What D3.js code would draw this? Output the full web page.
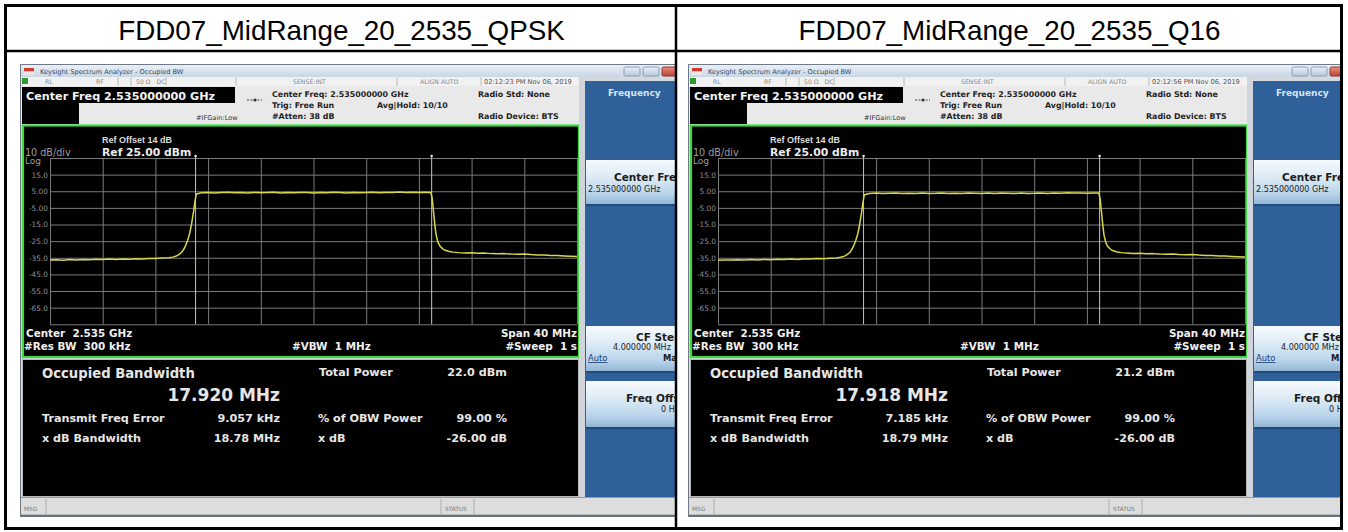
<!DOCTYPE html>
<html><head><meta charset="utf-8">
<script src="https://cdn.jsdelivr.net/npm/d3@7"></script>
<style>body{margin:0;background:#fff}svg{display:block}text{white-space:pre}</style>
</head><body>
<svg id="c" width="1348" height="532"></svg>
<script>
// ---------- data ----------
const titles = ["FDD07_MidRange_20_2535_QPSK", "FDD07_MidRange_20_2535_Q16"];
const timestamps = ["02:12:23 PM Nov 06, 2019", "02:12:56 PM Nov 06, 2019"];
const obwMHz = [17.920, 17.918];
const obwText = ["17.920 MHz", "17.918 MHz"];
const totalPower = ["22.0 dBm", "21.2 dBm"];
const freqErrorKHz = [9.057, 7.185];
const freqErrorText = ["9.057 kHz", "7.185 kHz"];
const xdbBandwidth = ["18.78 MHz", "18.79 MHz"];
const obwPowerPct = ["99.00 %", "99.00 %"];
const xdBValue = ["-26.00 dB", "-26.00 dB"];
const yTickValues = [15, 5, -5, -15, -25, -35, -45, -55, -65];
const yTickLabels = ["15.0", "5.00", "-5.00", "-15.0", "-25.0", "-35.0", "-45.0", "-55.0", "-65.0"];
const xDivs = [-20, -16, -12, -8, -4, 0, 4, 8, 12, 16, 20];
const yDivs = [25, 15, 5, -5, -15, -25, -35, -45, -55, -65, -75];
const freqMHz = [
  -20,-19.5,-19,-18.5,-18,-17.5,-17,-16.5,-16,-15.5,-15,-14.5,-14,-13.5,-13,-12.5,-12,-11.5,-11,
  -10.7,-10.4,-10.2,-10,-9.85,-9.7,-9.55,-9.4,-9.25,-9.1,-9,-8.9,
  -8.5,-8,-7.5,-7,-6.5,-6,-5.5,-5,-4.5,-4,-3.5,-3,-2.5,-2,-1.5,-1,-0.5,0,0.5,1,1.5,2,2.5,3,3.5,4,4.5,5,5.5,6,6.5,7,7.5,8,8.5,
  8.9,9,9.1,9.2,9.3,9.45,9.6,9.8,10,10.3,10.6,11,
  11.5,12,12.5,13,13.5,14,14.5,15,15.5,16,16.5,17,17.5,18,18.5,19,19.5,20
];
const levelQPSK = [
  -36.4,-36.2,-36.5,-36.1,-36.3,-36.0,-36.2,-35.9,-36.1,-35.8,-36.0,-35.7,-35.9,-35.6,-35.7,-35.4,-35.5,-35.2,-35.0,
  -34.6,-33.9,-33.0,-31.6,-29.9,-27.5,-24.4,-20.4,-14.4,-7.0,-1.2,3.4,
  4.1,4.3,4.0,4.2,4.4,4.1,4.2,4.0,4.3,4.1,4.2,4.4,4.0,4.2,4.1,4.3,4.2,4.0,4.3,4.1,4.4,4.2,4.0,4.3,4.1,4.2,4.4,4.1,4.3,4.2,4.5,4.3,4.4,4.2,4.4,
  4.3,1.2,-6.5,-14.5,-21.0,-25.8,-28.0,-29.6,-30.5,-31.2,-31.6,-31.9,
  -32.1,-32.0,-32.3,-32.2,-32.5,-32.6,-32.5,-32.8,-32.9,-32.8,-33.1,-33.3,-33.4,-33.6,-33.7,-33.9,-34.1,-34.3
];
const levelQ16 = [
  -36.5,-36.3,-36.4,-36.2,-36.4,-36.1,-36.3,-36.0,-36.2,-35.9,-36.1,-35.8,-36.0,-35.7,-35.8,-35.5,-35.6,-35.3,-35.1,
  -34.7,-34.0,-33.1,-31.8,-30.1,-27.8,-24.8,-20.9,-15.0,-7.6,-1.8,2.9,
  3.7,3.9,3.6,3.8,4.0,3.7,3.8,3.6,3.9,3.7,3.8,4.0,3.6,3.8,3.7,3.9,3.8,3.6,3.9,3.7,4.0,3.8,3.6,3.9,3.7,3.8,4.0,3.7,3.9,3.8,4.1,3.9,4.0,3.8,4.0,
  3.9,0.8,-7.0,-15.0,-21.5,-26.2,-28.4,-29.9,-30.8,-31.5,-31.9,-32.2,
  -32.4,-32.3,-32.6,-32.5,-32.8,-32.9,-32.8,-33.1,-33.2,-33.1,-33.4,-33.6,-33.7,-33.9,-34.0,-34.2,-34.4,-34.6
];
const levels = [levelQPSK, levelQ16];

// ---------- layout ----------
const svg = d3.select("#c");
const FD = "DejaVu Sans", FA = "Liberation Sans, Arial, sans-serif";
const panelDx = [0, 668];
const cellClip = [[7, 52, 668, 476], [677, 52, 664, 476]];

const defs = svg.append("defs");
function lin(id, stops) {
  const lg = defs.append("linearGradient").attr("id", id).attr("x1", 0).attr("y1", 0).attr("x2", 0).attr("y2", 1);
  stops.forEach(s => lg.append("stop").attr("offset", s[0]).attr("stop-color", s[1]));
}
lin("tbar", [[0, "#eaf0f7"], [1, "#c9d6e5"]]);
lin("btn", [[0, "#f6fafd"], [0.35, "#dfecf6"], [0.75, "#b9d4ea"], [1, "#8fb3d3"]]);
lin("closeb", [[0, "#e7907f"], [1, "#c0412f"]]);
lin("winb", [[0, "#e9f0f8"], [1, "#b7c8dc"]]);
cellClip.forEach((c, i) => defs.append("clipPath").attr("id", "cell" + i)
  .append("rect").attr("x", c[0]).attr("y", c[1]).attr("width", c[2]).attr("height", c[3]));

const x = d3.scaleLinear().domain([-20, 20]).range([50, 577]);
const y = d3.scaleLinear().domain([-75, 25]).range([324.3, 158]);

function txt(g, s, px, py, size, fill, opts = {}) {
  return g.append("text").attr("x", px).attr("y", py).text(s)
    .attr("font-family", opts.font || FD).attr("font-size", size)
    .attr("font-weight", opts.bold ? "bold" : "normal")
    .attr("text-anchor", opts.anchor || "start").attr("fill", fill);
}

function panel(i) {
  const outer = svg.append("g").attr("clip-path", `url(#cell${i})`);
  const g = outer.append("g").attr("transform", `translate(${panelDx[i]},0)`);

  // screenshot frame
  g.append("rect").attr("x", 20.5).attr("y", 64.5).attr("width", 700).attr("height", 452)
    .attr("fill", "#d3d9df").attr("stroke", "#6f7a86");
  // window title bar
  g.append("rect").attr("x", 21).attr("y", 65).attr("width", 700).attr("height", 12).attr("fill", "url(#tbar)");
  g.append("rect").attr("x", 24).attr("y", 68).attr("width", 10).attr("height", 3.5).attr("fill", "#d23b2b");
  g.append("rect").attr("x", 24).attr("y", 71.5).attr("width", 10).attr("height", 3.5).attr("fill", "#e8e8e8");
  txt(g, "Keysight Spectrum Analyzer - Occupied BW", 40, 74, 6.6, "#34465f");
  g.append("rect").attr("x", 624).attr("y", 67).attr("width", 16).attr("height", 9).attr("rx", 1.5).attr("fill", "url(#winb)").attr("stroke", "#8c9db2");
  g.append("rect").attr("x", 643).attr("y", 67).attr("width", 16).attr("height", 9).attr("rx", 1.5).attr("fill", "url(#winb)").attr("stroke", "#8c9db2");
  g.append("rect").attr("x", 662).attr("y", 67).attr("width", 24).attr("height", 9).attr("rx", 1.5).attr("fill", "url(#closeb)").attr("stroke", "#8a3a2e");

  // status row
  g.append("rect").attr("x", 21).attr("y", 77).attr("width", 558).attr("height", 9).attr("fill", "#f1f1f1");
  g.append("rect").attr("x", 22).attr("y", 78).attr("width", 6).attr("height", 6).attr("fill", "#2f9a2f");
  [["RL", 45], ["RF", 96], ["50 Ω   DC", 136], ["SENSE:INT", 293], ["ALIGN AUTO", 420]].forEach(d =>
    txt(g, d[0], d[1], 84, 6.2, "#8a8a8a"));
  txt(g, timestamps[i], 484, 84, 6.6, "#555");
  [118, 131, 166, 236, 397, 481].forEach(sx => g.append("line").attr("x1", sx).attr("x2", sx)
    .attr("y1", 77.5).attr("y2", 85.5).attr("stroke", "#b8b8b8"));

  // info area
  g.append("rect").attr("x", 21).attr("y", 86).attr("width", 558).attr("height", 39).attr("fill", "#e9e9e9");
  g.append("rect").attr("x", 22).attr("y", 87).attr("width", 213).attr("height", 16).attr("fill", "#000");
  g.append("rect").attr("x", 22).attr("y", 103).attr("width", 57).attr("height", 21).attr("fill", "#000");
  txt(g, "Center Freq 2.535000000 GHz", 26, 99.5, 11.2, "#f2f2f2", { bold: true });
  txt(g, "#IFGain:Low", 196, 120, 6.6, "#333");
  g.append("line").attr("x1", 247).attr("x2", 262).attr("y1", 100).attr("y2", 100).attr("stroke", "#444").attr("stroke-dasharray", "2,1.5");
  g.append("circle").attr("cx", 255).attr("cy", 100).attr("r", 1.6).attr("fill", "#333");
  const info = [["Center Freq: 2.535000000 GHz", 272, 97], ["Trig: Free Run", 272, 108], ["Avg|Hold: 10/10", 377, 108],
    ["#Atten: 38 dB", 272, 119], ["Radio Std: None", 478, 97], ["Radio Device: BTS", 478, 119]];
  info.forEach(d => txt(g, d[0], d[1], d[2], 7.9, "#1f1f1f", { bold: true }));

  // graph area
  g.append("rect").attr("x", 23).attr("y", 125.5).attr("width", 556).attr("height", 231.5)
    .attr("fill", "#000").attr("stroke", "#3fd83f").attr("stroke-width", 2.2);
  txt(g, "Ref Offset 14 dB", 102, 142.5, 9, "#dcdcdc", { bold: true, font: FA });
  txt(g, "Ref 25.00 dBm", 102, 156, 10.8, "#ececec", { bold: true });
  txt(g, "10 dB/div", 25, 155.5, 9.6, "#9c9c9c");
  txt(g, "Log", 25, 163.5, 9, "#9c9c9c");

  const grid = g.append("g");
  grid.append("g")
    .call(d3.axisBottom(x).tickValues(xDivs).tickSize(0).tickFormat(""))
    .call(a => a.select(".domain").remove())
    .call(a => a.selectAll(".tick line").attr("y1", y(25)).attr("y2", y(-75)).attr("stroke", "#7a7a7a"));
  grid.append("g")
    .call(d3.axisLeft(y).tickValues(yDivs).tickSize(0).tickFormat(""))
    .call(a => a.select(".domain").remove())
    .call(a => a.selectAll(".tick line").attr("x1", x(-20)).attr("x2", x(20)).attr("stroke", "#7a7a7a"));
  g.append("g").attr("transform", `translate(${x(-20) - 2},0)`)
    .call(d3.axisLeft(y).tickValues(yTickValues).tickSize(0).tickPadding(0).tickFormat((d, k) => yTickLabels[k]))
    .call(a => a.select(".domain").remove())
    .call(a => a.selectAll("text").attr("fill", "#8e8e8e").attr("font-family", FD).attr("font-size", 7.4));

  // OBW marker lines
  const fe = freqErrorKHz[i] / 1000;
  [fe - obwMHz[i] / 2, fe + obwMHz[i] / 2].forEach(f => {
    g.append("line").attr("x1", x(f)).attr("x2", x(f)).attr("y1", y(25) - 2).attr("y2", y(-75))
      .attr("stroke", "#c4c4c4").attr("stroke-width", 1);
    g.append("circle").attr("cx", x(f)).attr("cy", y(25) - 2).attr("r", 1.3).attr("fill", "#e0e0e0");
  });

  // trace
  const line = d3.line().x((d, k) => x(freqMHz[k])).y(d => y(d));
  g.append("path").attr("d", line(levels[i])).attr("fill", "none")
    .attr("stroke", "#d7d74b").attr("stroke-width", 1.5).attr("stroke-linejoin", "round");

  txt(g, "Center  2.535 GHz", 26, 337, 10.4, "#f0f0f0", { bold: true });
  txt(g, "#Res BW  300 kHz", 24, 349.5, 10.4, "#f0f0f0", { bold: true });
  txt(g, "#VBW  1 MHz", 292, 349.5, 10.4, "#f0f0f0", { bold: true });
  txt(g, "Span 40 MHz", 577, 337, 10.4, "#f0f0f0", { bold: true, anchor: "end" });
  txt(g, "#Sweep  1 s", 577, 349.5, 10.4, "#f0f0f0", { bold: true, anchor: "end" });

  // results
  g.append("rect").attr("x", 22.5).attr("y", 359.5).attr("width", 556).attr("height", 137)
    .attr("fill", "#000").attr("stroke", "#b9b9b9");
  const W = "#e6e6e6";
  txt(g, "Occupied Bandwidth", 42, 378, 13.2, W, { bold: true });
  txt(g, obwText[i], 280, 400.5, 17, W, { bold: true, anchor: "end" });
  txt(g, "Transmit Freq Error", 42, 422, 11.2, W, { bold: true });
  txt(g, freqErrorText[i], 280, 422, 11.2, W, { bold: true, anchor: "end" });
  txt(g, "x dB Bandwidth", 42, 442, 11.2, W, { bold: true });
  txt(g, xdbBandwidth[i], 280, 442, 11.2, W, { bold: true, anchor: "end" });
  txt(g, "Total Power", 319, 375.5, 11.2, W, { bold: true });
  txt(g, totalPower[i], 507, 375.5, 11.2, W, { bold: true, anchor: "end" });
  txt(g, "% of OBW Power", 318, 422, 11.2, W, { bold: true });
  txt(g, obwPowerPct[i], 507, 422, 11.2, W, { bold: true, anchor: "end" });
  txt(g, "x dB", 318, 442, 11.2, W, { bold: true });
  txt(g, xdBValue[i], 507, 442, 11.2, W, { bold: true, anchor: "end" });

  // softkey panel
  g.append("rect").attr("x", 579).attr("y", 77).attr("width", 6).attr("height", 420).attr("fill", "#cfd5db");
  g.append("rect").attr("x", 585).attr("y", 81).attr("width", 120).attr("height", 416).attr("fill", "#30609a");
  txt(g, "Frequency", 608, 96, 9, "#d6e4f4", { bold: true });
  // [top, height, label, labelX, labelBaselineOffset, value, valueX, valueBaselineOffset]
  const keys = [[160, 45, "Center Freq", 614, 21, "2.535000000 GHz", 588, 32],
                [326, 46, "CF Step", 636, 15, "4.000000 MHz", 613, 24],
                [381, 47, "Freq Offset", 626, 21, "0 Hz", 661, 31]];
  keys.forEach(k => {
    g.append("rect").attr("x", 586).attr("y", k[0]).attr("width", 120).attr("height", k[1]).attr("fill", "url(#btn)");
    g.append("line").attr("x1", 586).attr("x2", 706).attr("y1", k[0] + k[1]).attr("y2", k[0] + k[1]).attr("stroke", "#1f4a7c").attr("stroke-width", 2);
    txt(g, k[2], k[3], k[0] + k[4], 10.5, "#1c1c1c", { bold: true });
    txt(g, k[5], k[6], k[0] + k[7], 8, "#1c1c1c");
  });
  txt(g, "Auto", 588, 361, 8.4, "#1b3e7a").attr("text-decoration", "underline");
  txt(g, "Man", 663, 361, 8.4, "#1c1c1c", { bold: true });

  // status bar
  g.append("rect").attr("x", 21).attr("y", 497).attr("width", 700).attr("height", 18).attr("fill", "#dddddd");
  g.append("line").attr("x1", 21).attr("x2", 721).attr("y1", 497.5).attr("y2", 497.5).attr("stroke", "#9a9a9a");
  g.append("line").attr("x1", 21).attr("x2", 721).attr("y1", 515.5).attr("y2", 515.5).attr("stroke", "#6a6a6a").attr("stroke-width", 1.5);
  [46, 441, 474].forEach(sx => g.append("line").attr("x1", sx).attr("x2", sx).attr("y1", 499).attr("y2", 514).attr("stroke", "#b0b0b0"));
  txt(g, "MSG", 24, 511, 5.8, "#7a7a7a");
  txt(g, "STATUS", 445, 511, 5.8, "#7a7a7a");
}

// background, panels, table borders + titles
svg.append("rect").attr("x", 0).attr("y", 0).attr("width", 1348).attr("height", 532).attr("fill", "#fff");
panel(0);
panel(1);
const cellCenters = [341.5, 1009.5];
titles.forEach((t, i) => txt(svg, t, cellCenters[i], 40, 27.8, "#000", { font: FA, anchor: "middle" }));
svg.append("rect").attr("x", 5.5).attr("y", 5.5).attr("width", 1336).attr("height", 523)
  .attr("fill", "none").attr("stroke", "#000").attr("stroke-width", 3);
svg.append("line").attr("x1", 5).attr("x2", 1342).attr("y1", 51).attr("y2", 51).attr("stroke", "#000").attr("stroke-width", 2.5);
svg.append("line").attr("x1", 676).attr("x2", 676).attr("y1", 5).attr("y2", 529).attr("stroke", "#000").attr("stroke-width", 2.5);
</script>
</body></html>
